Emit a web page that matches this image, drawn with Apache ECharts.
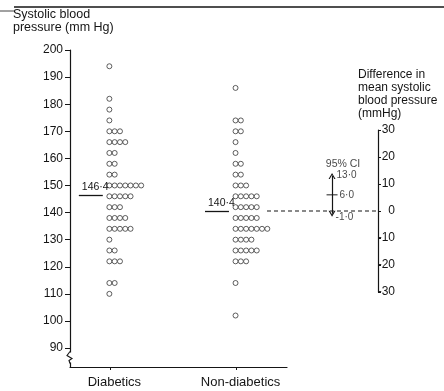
<!DOCTYPE html>
<html>
<head>
<meta charset="utf-8">
<title>Systolic blood pressure</title>
<script src="https://cdn.jsdelivr.net/npm/echarts@6/dist/echarts.min.js"></script>
<style>
html, body { margin: 0; padding: 0; background: #fff; }
#main { width: 444px; height: 391px; }
</style>
</head>
<body>
<div id="main"></div>
<script>
// groups on the x axis
const categories = ['Diabetics', 'Non-diabetics'];
// systolic blood pressure (mm Hg), one value per subject
const diabetics = [194, 182, 178, 174, 170, 170, 170, 166, 166, 166, 166, 162, 162, 158, 158, 154, 154,
    150, 150, 150, 150, 150, 150, 150, 146, 146, 146, 146, 146, 142, 142, 142, 138, 138, 138, 138,
    134, 134, 134, 134, 134, 130, 126, 126, 122, 122, 122, 114, 114, 110];
const nonDiabetics = [186, 174, 174, 170, 170, 166, 162, 158, 158, 154, 154, 150, 150, 150,
    146, 146, 146, 146, 146, 142, 142, 142, 142, 142, 138, 138, 138, 138, 138,
    134, 134, 134, 134, 134, 134, 134, 130, 130, 130, 130, 126, 126, 126, 126, 126, 122, 122, 122, 114, 102];
const groupMeans = [146.4, 140.4];
// left axis ticks and difference axis ticks
const yTicks = [90, 100, 110, 120, 130, 140, 150, 160, 170, 180, 190, 200];
const diffTicks = [-30, -20, -10, 0, 10, 20, 30];
// 95% CI of the difference: lower, mean, upper
const ciValues = [-1.0, 6.0, 13.0];

const ink = '#151515';
const font = 'Liberation Sans';

function fmt(v) {
    return v.toFixed(1).replace('.', '·');
}

// stack equal readings side by side, like the printed dot plot
function dotData(values, xPos) {
    let seen = {};
    return values.map(function (v) {
        let k = seen[v] || 0;
        seen[v] = k + 1;
        return { value: [xPos, v], symbolOffset: [-1 + k * 5.3, 0] };
    });
}

function meanLine(xPos, mean) {
    return [
        { coord: [xPos - 0.25, mean] },
        { coord: [xPos - 0.06, mean] }
    ];
}

function dotSeries(values, idx) {
    return {
        type: 'scatter',
        xAxisIndex: 0,
        yAxisIndex: 0,
        symbol: 'circle',
        symbolSize: 5,
        itemStyle: { color: '#fff', borderColor: '#222', borderWidth: 0.9 },
        data: dotData(values, idx + 1),
        markLine: {
            silent: true,
            symbol: ['none', 'none'],
            lineStyle: { color: ink, width: 1.3, type: 'solid' },
            label: {
                show: true,
                position: 'insideStartTop',
                distance: 3,
                formatter: fmt(groupMeans[idx]),
                color: ink,
                fontFamily: font,
                fontSize: 10.5
            },
            data: [meanLine(idx + 1, groupMeans[idx])]
        }
    };
}

const ciX = 0.586;
const chevron = 'path://M0,8 L4,0 L8,8 L6.6,8 L4,2.8 L1.4,8 Z';
const hidden = { color: 'transparent' };

var chartDom = document.getElementById('main');
var myChart = echarts.init(chartDom, null, { renderer: 'canvas' });
var option;

option = {
    animation: false,
    backgroundColor: '#fff',
    title: [
        {
            text: 'Systolic blood\npressure (mm Hg)',
            left: 13,
            top: 8,
            padding: 0,
            textStyle: { fontFamily: font, fontSize: 12.5, fontWeight: 'normal', color: ink, lineHeight: 13 }
        },
        {
            text: 'Difference in\nmean systolic\nblood pressure\n(mmHg)',
            left: 358,
            top: 68,
            padding: 0,
            textStyle: { fontFamily: font, fontSize: 12, fontWeight: 'normal', color: ink, lineHeight: 13 }
        }
    ],
    grid: [
        { left: 70, top: 50, width: 217, height: 317, outerBoundsMode: 'none' },
        { left: 267, top: 130, width: 111, height: 162, outerBoundsMode: 'none' }
    ],
    xAxis: [
        {
            gridIndex: 0,
            type: 'value',
            min: 0.68,
            max: 2.4,
            axisLine: { show: true, onZero: false, lineStyle: { color: ink, width: 1.2 } },
            axisTick: { show: true, length: 3, customValues: [1, 2], lineStyle: { color: ink, width: 1 } },
            axisLabel: {
                customValues: [1, 2],
                formatter: function (v) { return categories[Math.round(v) - 1]; },
                color: ink,
                fontFamily: font,
                fontSize: 13,
                padding: [0, 0, 0, 8],
                margin: 9
            },
            splitLine: { show: false }
        },
        {
            gridIndex: 1,
            type: 'value',
            min: 0,
            max: 1,
            show: false
        }
    ],
    yAxis: [
        {
            gridIndex: 0,
            type: 'value',
            min: 83,
            max: 200,
            axisLine: { show: true, onZero: false, lineStyle: { color: ink, width: 1.2 } },
            axisTick: { show: true, length: 5, customValues: yTicks, lineStyle: { color: ink, width: 1 } },
            axisLabel: {
                customValues: yTicks,
                color: ink,
                fontFamily: font,
                fontSize: 12,
                margin: 7
            },
            splitLine: { show: false }
        },
        {
            gridIndex: 1,
            type: 'value',
            position: 'right',
            min: diffTicks[0],
            max: diffTicks[diffTicks.length - 1],
            interval: 10,
            axisLine: { show: true, onZero: false, lineStyle: { color: ink, width: 1.2 } },
            axisTick: { show: true, length: 3, lineStyle: { color: ink } },
            axisLabel: {
                align: 'right',
                margin: 17,
                color: ink,
                fontFamily: font,
                fontSize: 12
            },
            splitLine: { show: false }
        }
    ],
    series: [
        dotSeries(diabetics, 0),
        dotSeries(nonDiabetics, 1),
        {
            // zero difference, level with the non-diabetic mean
            type: 'line',
            xAxisIndex: 1,
            yAxisIndex: 1,
            symbol: 'none',
            lineStyle: { color: ink, width: 1.2, type: [4, 3] },
            data: [[0, 0], [1, 0]]
        },
        {
            type: 'scatter',
            xAxisIndex: 1,
            yAxisIndex: 1,
            symbolSize: 1,
            itemStyle: hidden,
            label: { show: true, color: ink, fontFamily: font, fontSize: 10 },
            data: [
                {
                    value: [ciX, ciValues[1]],
                    symbol: 'rect',
                    symbolSize: [11, 1.2],
                    itemStyle: { color: ink },
                    label: { position: 'right', distance: 2, formatter: fmt(ciValues[1]) }
                },
                {
                    value: [ciX, ciValues[2]],
                    label: { position: 'right', distance: 4, offset: [0, -1], formatter: fmt(ciValues[2]) }
                },
                {
                    value: [ciX, ciValues[0]],
                    label: { position: 'right', distance: 3, offset: [0, 4], formatter: fmt(ciValues[0]) }
                },
                {
                    value: [ciX, ciValues[2]],
                    label: { position: 'top', distance: 6, offset: [11, 0], fontSize: 10.5, formatter: '95% CI' }
                }
            ],
            markLine: {
                silent: true,
                symbol: [chevron, chevron],
                symbolSize: [7, 6],
                lineStyle: { color: ink, width: 1.2, type: 'solid' },
                label: { show: false },
                data: [[{ coord: [ciX, ciValues[0]] }, { coord: [ciX, ciValues[2]] }]]
            }
        }
    ]
};

option && myChart.setOption(option);

// scan rule along the top and the break mark on the left axis
var ax = myChart.convertToPixel({ xAxisIndex: 0 }, 0.68);
var yb = myChart.convertToPixel({ yAxisIndex: 0 }, 86.5);
myChart.setOption({
    graphic: [
        { type: 'line', shape: { x1: 14, y1: 7, x2: 444, y2: 7 }, style: { stroke: ink, lineWidth: 1.6 } },
        { type: 'line', shape: { x1: 0, y1: 11, x2: 14, y2: 11 }, style: { stroke: ink, lineWidth: 0.8 } },
        { type: 'rect', shape: { x: ax - 3, y: yb - 5, width: 6, height: 10 }, style: { fill: '#fff' }, z: 100 },
        {
            type: 'polyline',
            shape: { points: [[ax, yb - 6], [ax - 3, yb - 2], [ax + 2, yb + 1], [ax - 1, yb + 3], [ax, yb + 6]] },
            style: { stroke: ink, lineWidth: 1.1, fill: null },
            z: 101
        }
    ]
});

window.addEventListener('resize', function () {
    myChart.resize();
});
</script>
</body>
</html>
